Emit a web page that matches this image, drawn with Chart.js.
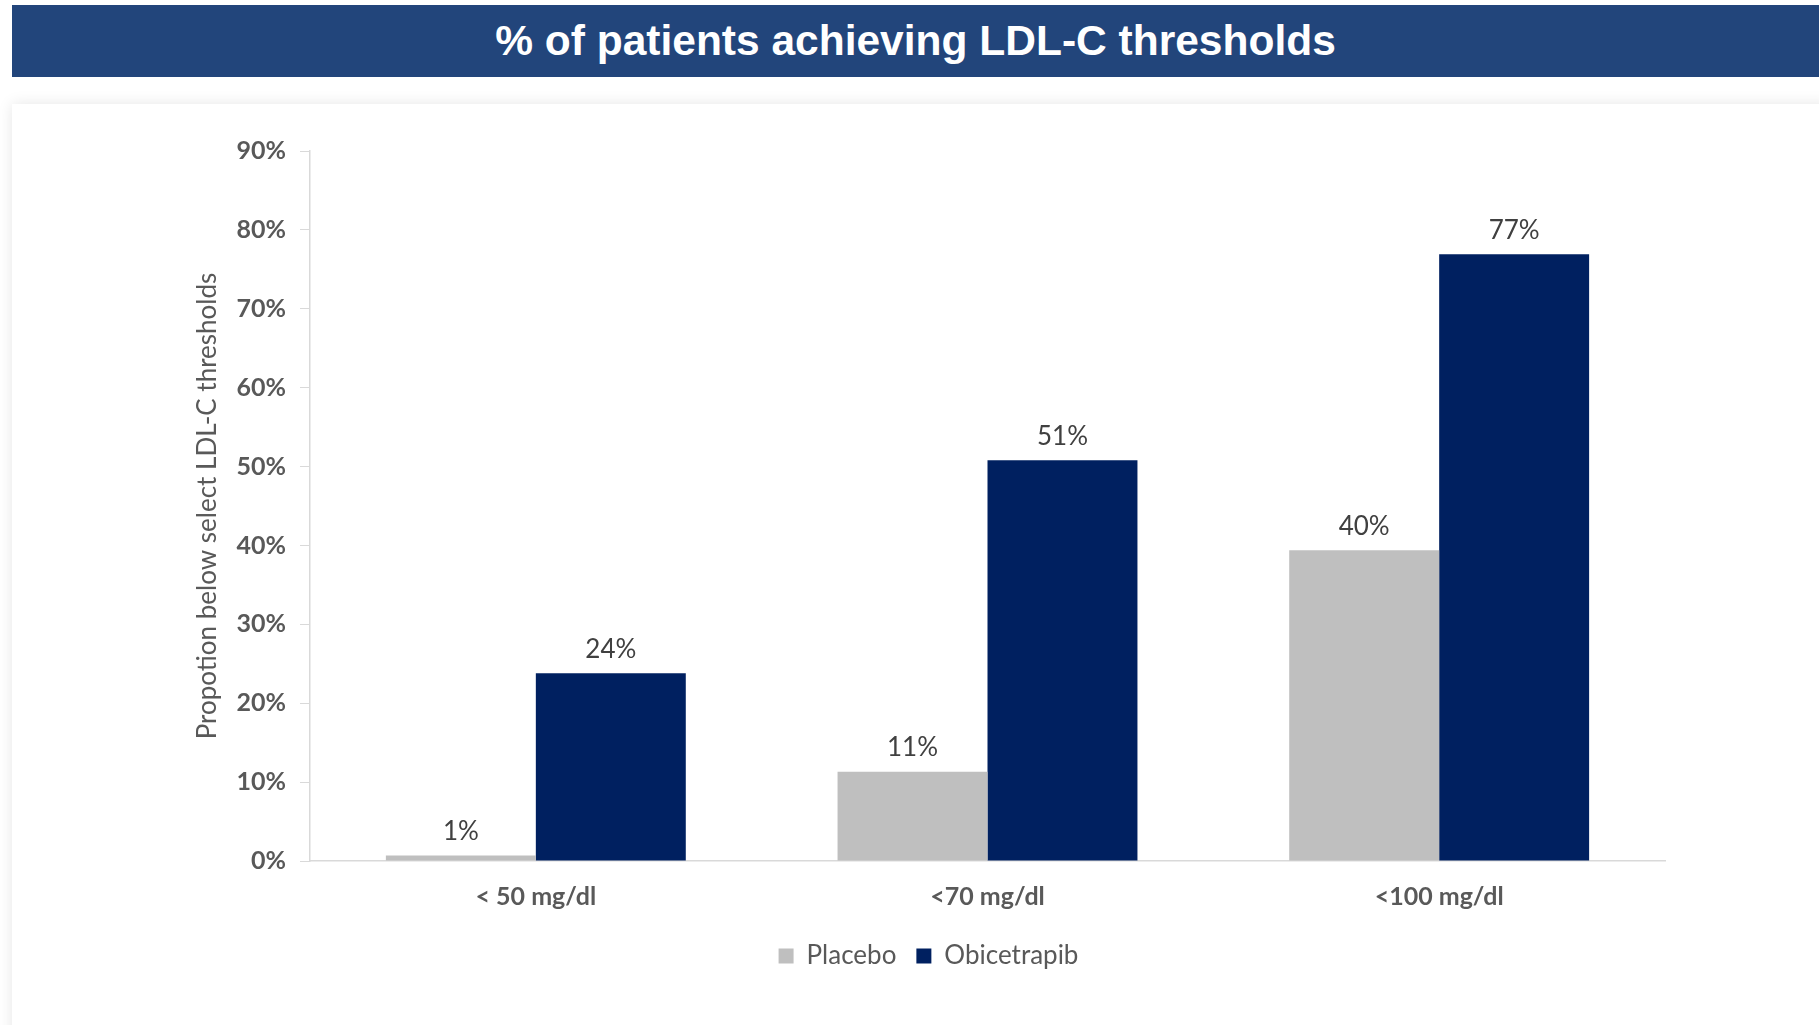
<!DOCTYPE html>
<html>
<head>
<meta charset="utf-8">
<script src="https://cdn.jsdelivr.net/npm/chart.js@4/dist/chart.umd.min.js"></script>
<style>
  html, body { margin: 0; padding: 0; background: #fff; }
  body { width: 1819px; height: 1025px; position: relative; overflow: hidden; }
  #banner {
    position: absolute; left: 12px; top: 5px; width: 1807px; height: 72px;
    background: #22457b; color: #fff;
    font: bold 42.5px "Liberation Sans", Arial, sans-serif;
    display: flex; align-items: center; justify-content: center;
  }
  #panel {
    position: absolute; left: 12px; top: 104px; width: 1820px; height: 940px;
    background: #fff; box-shadow: 0 0 14px rgba(0,0,0,0.10);
  }
  #wrap { position: absolute; left: 0; top: 0; width: 1819px; height: 1025px; }
</style>
</head>
<body>
<div id="banner">% of patients achieving LDL-C thresholds</div>
<div id="panel"></div>
<div id="wrap"><canvas id="ldlChart"></canvas></div>
<script>
const categories = ['< 50 mg/dl', '<70 mg/dl', '<100 mg/dl'];
const placebo = [0.7, 11.3, 39.4];
const obicetrapib = [23.8, 50.8, 76.9];
const placeboLabels = ['1%', '11%', '40%'];
const obicetrapibLabels = ['24%', '51%', '77%'];
const yTicks = [0, 10, 20, 30, 40, 50, 60, 70, 80, 90];

// labels above each bar
const barLabels = {
    id: 'barLabels',
    afterDatasetsDraw(chart) {
        const ctx = chart.ctx;
        ctx.save();
        ctx.font = '26px Lato, sans-serif';
        ctx.fillStyle = '#404040';
        ctx.textAlign = 'center';
        ctx.textBaseline = 'bottom';
        chart.data.datasets.forEach((ds, i) => {
            const meta = chart.getDatasetMeta(i);
            meta.data.forEach((bar, j) => {
                ctx.fillText(ds.valueLabels[j], bar.x, bar.y - 11);
            });
        });
        ctx.restore();
    }
};

const ctx = document.getElementById('ldlChart').getContext('2d');
new Chart(ctx, {
    type: 'bar',
    data: {
        labels: categories,
        datasets: [
            {
                label: 'Placebo',
                data: placebo,
                valueLabels: placeboLabels,
                backgroundColor: '#bfbfbf'
            },
            {
                label: 'Obicetrapib',
                data: obicetrapib,
                valueLabels: obicetrapibLabels,
                backgroundColor: '#002060'
            }
        ]
    },
    options: {
        responsive: true,
        maintainAspectRatio: false,
        animation: false,
        datasets: {
            bar: { categoryPercentage: 0.664, barPercentage: 1.0 }
        },
        layout: { padding: { left: 192, right: 154, top: 151, bottom: 46 } },
        plugins: {
            legend: {
                position: 'bottom',
                labels: {
                    boxWidth: 15,
                    boxHeight: 15,
                    padding: 20,
                    color: '#595959',
                    font: { family: 'Lato, sans-serif', size: 26 }
                }
            },
            tooltip: { enabled: false }
        },
        scales: {
            x: {
                grid: { display: false },
                border: { color: '#d9d9d9', width: 1.5 },
                ticks: {
                    color: '#595959',
                    padding: 13,
                    font: { family: 'Lato, sans-serif', size: 25, weight: 'bold' }
                },
                afterFit(axis) { axis.height = 62; }
            },
            y: {
                min: 0,
                max: 90,
                afterBuildTicks(axis) { axis.ticks = yTicks.map(v => ({ value: v })); },
                grid: { drawOnChartArea: false, color: '#d9d9d9', tickLength: 10 },
                border: { color: '#d9d9d9', width: 1.5 },
                ticks: {
                    color: '#595959',
                    padding: 14,
                    font: { family: 'Lato, sans-serif', size: 25, weight: 'bold' },
                    callback: v => v + '%'
                },
                title: {
                    display: true,
                    text: 'Propotion below select LDL-C thresholds',
                    color: '#595959',
                    font: { family: 'Lato, sans-serif', size: 26 },
                    padding: { top: 0, bottom: 8 }
                },
                afterFit(axis) { axis.width = 118; }
            }
        }
    },
    plugins: [barLabels]
});
</script>
</body>
</html>
